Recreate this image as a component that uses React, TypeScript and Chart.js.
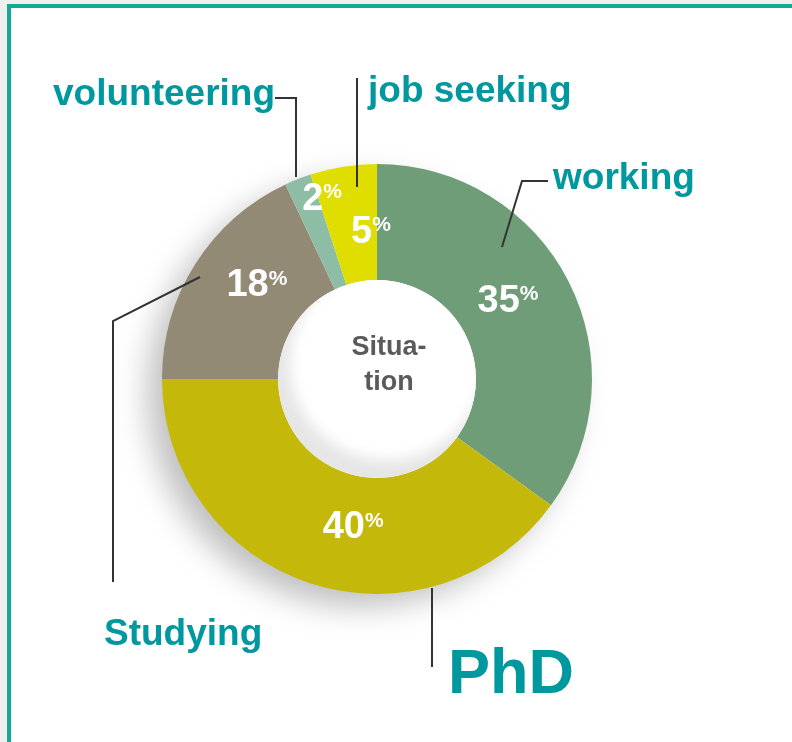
import { useEffect, useRef } from "react";
import { Chart, registerables } from "chart.js";

Chart.register(...registerables);

// ---- data ----
const categories = ["working", "PhD", "Studying", "volunteering", "job seeking"];
const shares = [35, 40, 18, 2, 5];
const sliceColors = ["#6E9D78", "#C4B90A", "#938A75", "#8DBEA5", "#E0DE00"];
const centerLines = ["Situa-", "tion"];

// ---- label styling / placement ----
const pctAngleShift = [-4.7, -8.7, 6.3, 4.9, 6.7]; // degrees added to slice mid-angle
const pctRadiusFrac = [0.716, 0.688, 0.716, 0.888, 0.698]; // fraction of outer radius
const outerLabelPos = [
  { x: 553, y: 189, size: 37 },
  { x: 448, y: 693, size: 63 },
  { x: 104, y: 645, size: 37 },
  { x: 53, y: 105, size: 37 },
  { x: 368, y: 102, size: 37 },
];
const leaderLines: number[][][] = [
  [[548, 181], [522, 181], [502, 247]],
  [[432, 588], [432, 667]],
  [[113, 582], [113, 321], [200, 277]],
  [[275, 98], [296, 98], [296, 177]],
  [[357, 78], [357, 187]],
];

const FONT = "'Liberation Sans', Arial, sans-serif";
const TEAL = "#00989F";

const decor = {
  id: "decor",
  beforeDatasetsDraw(chart: any) {
    const arc = chart.getDatasetMeta(0).data[0];
    if (!arc) return;
    const { x, y, outerRadius } = arc.getProps(["x", "y", "outerRadius"], true);
    const ctx = chart.ctx as CanvasRenderingContext2D;
    ctx.save();
    ctx.shadowColor = "rgba(0,0,0,0.26)";
    ctx.shadowBlur = 32;
    ctx.shadowOffsetX = -16;
    ctx.shadowOffsetY = 14;
    ctx.beginPath();
    ctx.arc(x, y, outerRadius - 2, 0, Math.PI * 2);
    ctx.fillStyle = "#ffffff";
    ctx.fill();
    ctx.restore();
  },
  afterDatasetsDraw(chart: any) {
    const meta = chart.getDatasetMeta(0);
    const ctx = chart.ctx as CanvasRenderingContext2D;
    const first = meta.data[0];
    if (!first) return;
    const { x, y, innerRadius, outerRadius } = first.getProps(
      ["x", "y", "innerRadius", "outerRadius"],
      true
    );

    // hole shading
    ctx.save();
    ctx.beginPath();
    ctx.arc(x, y, innerRadius, 0, Math.PI * 2);
    ctx.clip();
    ctx.fillStyle = "#e6e6e6";
    ctx.fillRect(x - innerRadius, y - innerRadius, innerRadius * 2, innerRadius * 2);
    ctx.filter = "blur(7px)";
    ctx.beginPath();
    ctx.arc(x + 10, y - 16, innerRadius * 0.98, 0, Math.PI * 2);
    ctx.fillStyle = "#ffffff";
    ctx.fill();
    ctx.filter = "none";
    ctx.restore();

    // centre text
    ctx.save();
    ctx.fillStyle = "#5a5a5a";
    ctx.font = `bold 27px ${FONT}`;
    ctx.textAlign = "center";
    ctx.textBaseline = "alphabetic";
    ctx.fillText(centerLines[0], x + 12, y - 24);
    ctx.fillText(centerLines[1], x + 12, y + 11);
    ctx.restore();

    // percentage labels
    meta.data.forEach((el: any, i: number) => {
      const p = el.getProps(["startAngle", "endAngle"], true);
      const mid = (p.startAngle + p.endAngle) / 2 + (pctAngleShift[i] * Math.PI) / 180;
      const r = outerRadius * pctRadiusFrac[i];
      const cx = x + Math.cos(mid) * r;
      const cy = y + Math.sin(mid) * r;
      const num = String(shares[i]);
      ctx.save();
      ctx.fillStyle = "#ffffff";
      ctx.textAlign = "left";
      ctx.textBaseline = "alphabetic";
      ctx.font = `bold 38px ${FONT}`;
      const w1 = ctx.measureText(num).width;
      ctx.font = `bold 21px ${FONT}`;
      const w2 = ctx.measureText("%").width;
      const left = cx - (w1 + w2) / 2;
      const base = cy + 13.5;
      ctx.font = `bold 38px ${FONT}`;
      ctx.fillText(num, left, base);
      ctx.font = `bold 21px ${FONT}`;
      ctx.fillText("%", left + w1, cy + 2);
      ctx.restore();
    });

    // leader lines
    ctx.save();
    ctx.strokeStyle = "#333333";
    ctx.lineWidth = 2;
    leaderLines.forEach((pts) => {
      ctx.beginPath();
      pts.forEach((pt, k) => (k === 0 ? ctx.moveTo(pt[0], pt[1]) : ctx.lineTo(pt[0], pt[1])));
      ctx.stroke();
    });
    ctx.restore();

    // category labels
    ctx.save();
    ctx.fillStyle = TEAL;
    ctx.textAlign = "left";
    ctx.textBaseline = "alphabetic";
    categories.forEach((c, i) => {
      const pos = outerLabelPos[i];
      ctx.font = `bold ${pos.size}px ${FONT}`;
      ctx.fillText(c, pos.x, pos.y);
    });
    ctx.restore();
  },
};

export default function App() {
  const ref = useRef<HTMLCanvasElement | null>(null);

  useEffect(() => {
    if (!ref.current) return;
    const chart = new Chart(ref.current, {
      type: "doughnut",
      data: {
        labels: categories,
        datasets: [
          {
            data: shares,
            backgroundColor: sliceColors,
            borderWidth: 0,
            hoverOffset: 0,
          },
        ],
      },
      options: {
        responsive: false,
        animation: false,
        cutout: "46%",
        layout: { padding: { left: 162, right: 200, top: 164, bottom: 148 } },
        plugins: {
          legend: { display: false },
          tooltip: { enabled: false },
          title: { display: false },
        },
        events: [],
      },
      plugins: [decor],
    });
    return () => chart.destroy();
  }, []);

  return (
    <div
      style={{
        position: "absolute",
        left: 0,
        top: 0,
        width: 792,
        height: 742,
        overflow: "hidden",
        background: "#efefef",
      }}
    >
      <div
        style={{
          position: "absolute",
          left: 7,
          top: 4,
          width: 820,
          height: 780,
          borderLeft: "4px solid #14A896",
          borderTop: "4px solid #14A896",
          background: "#ffffff",
        }}
      />
      <canvas
        ref={ref}
        width={792}
        height={742}
        style={{ position: "absolute", left: 0, top: 0, width: 792, height: 742 }}
      />
    </div>
  );
}
